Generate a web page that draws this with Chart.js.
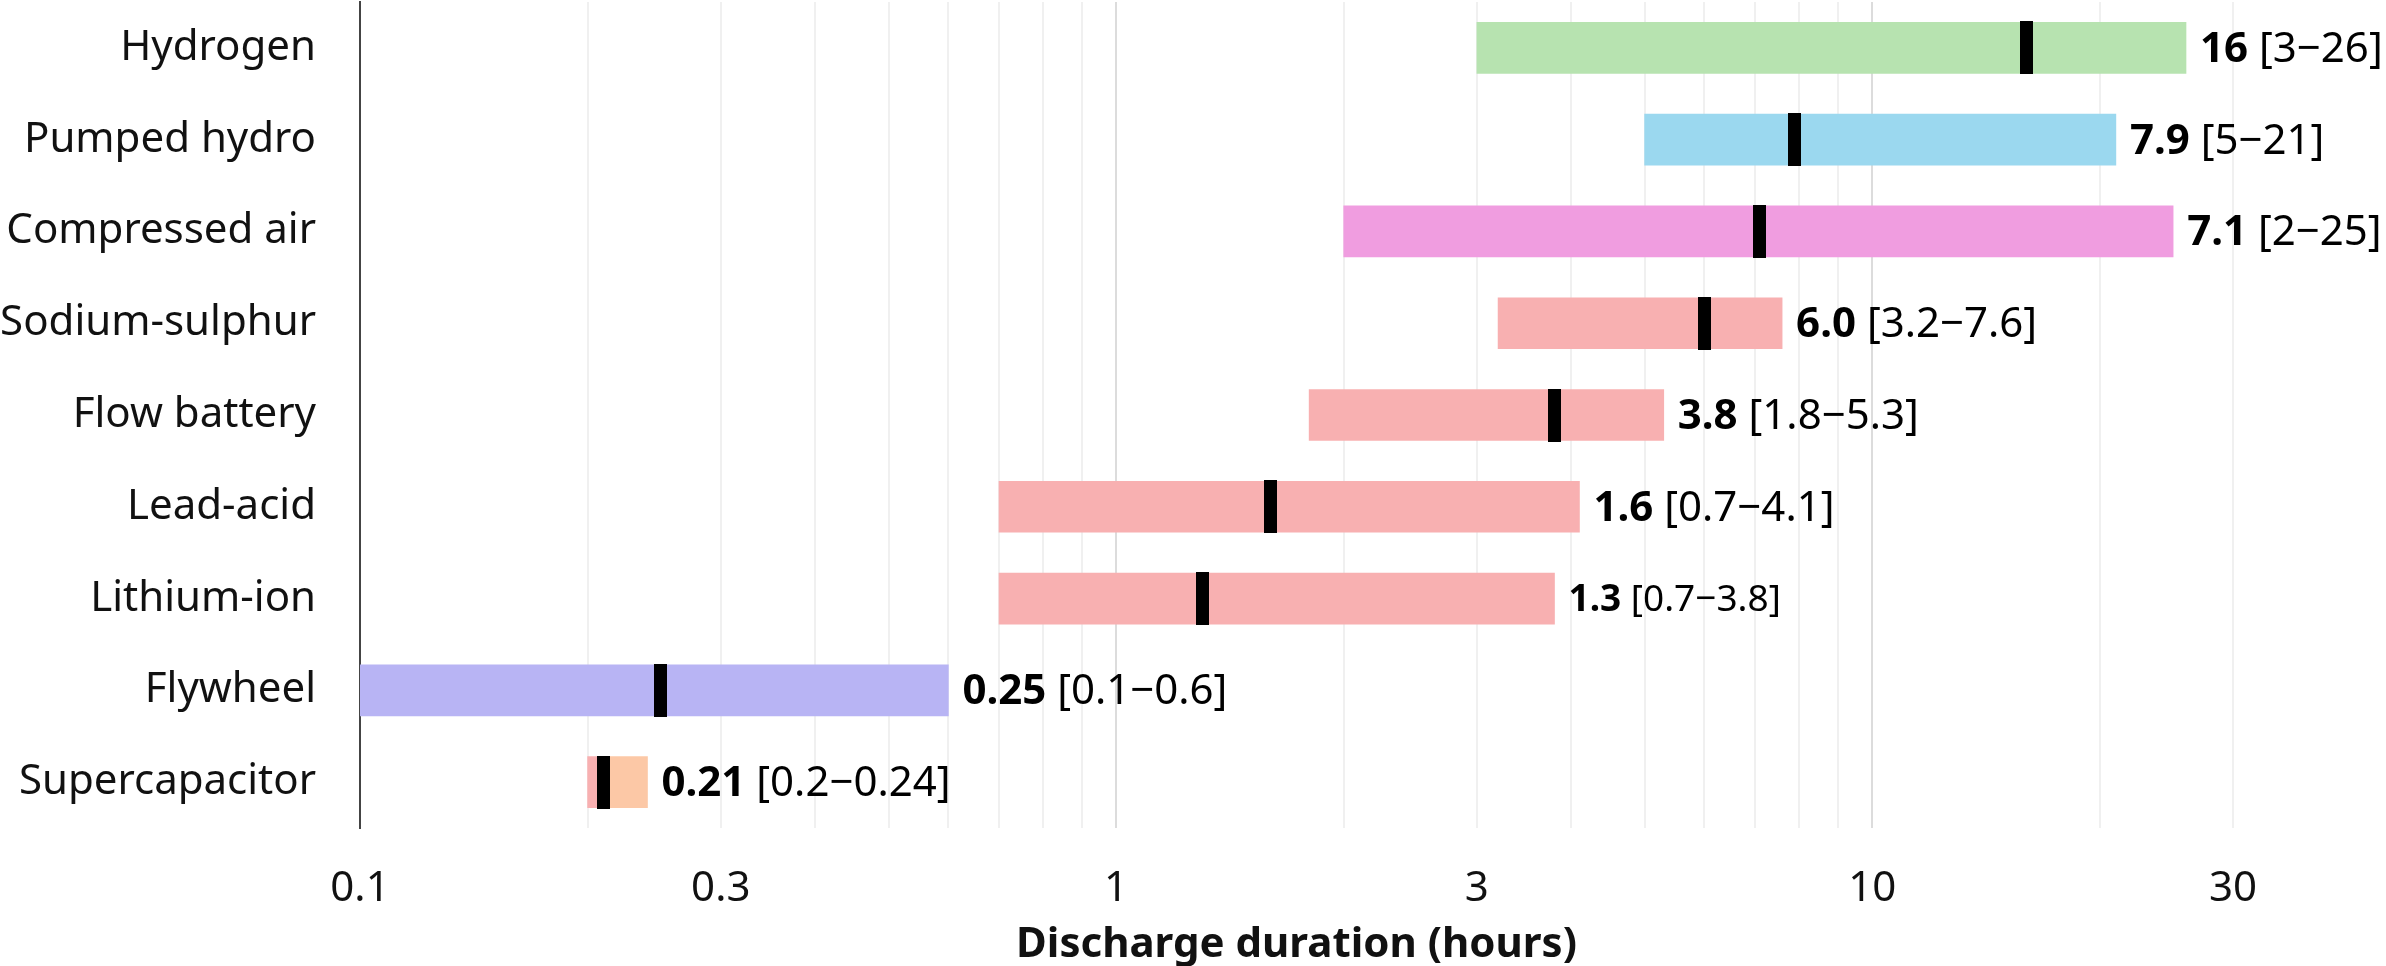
<!DOCTYPE html>
<html>
<head>
<meta charset="utf-8">
<script src="https://cdn.jsdelivr.net/npm/chart.js@4/dist/chart.umd.min.js"></script>
<style>
  html, body { margin: 0; padding: 0; background: #ffffff; }
  #wrap { width: 2386px; height: 966px; position: relative; }
</style>
</head>
<body>
<div id="wrap"><canvas id="chart" width="2386" height="966"></canvas></div>
<script>
// Storage technologies, typical discharge duration in hours
const technologies = ['Hydrogen', 'Pumped hydro', 'Compressed air', 'Sodium-sulphur',
  'Flow battery', 'Lead-acid', 'Lithium-ion', 'Flywheel', 'Supercapacitor'];
const medianHours = [16, 7.9, 7.1, 6.0, 3.8, 1.6, 1.3, 0.25, 0.21];
const lowHours    = [3, 5, 2, 3.2, 1.8, 0.7, 0.7, 0.1, 0.2];
const highHours   = [26, 21, 25, 7.6, 5.3, 4.1, 3.8, 0.6, 0.24];

// Log axis: gridlines and the values that carry a label
const gridValues = [0.1, 0.2, 0.3, 0.4, 0.5, 0.6, 0.7, 0.8, 0.9,
  1, 2, 3, 4, 5, 6, 7, 8, 9, 10, 20, 30];
const tickLabelValues = [0.1, 0.3, 1, 3, 10, 30];

// Fill colours: left half (low to median) and right half (median to high)
const lowColors  = ['#b7e3b0', '#9bd8ef', '#f09de0', '#f8b0b1', '#f8b0b1', '#f8b0b1', '#f8b0b1', '#b8b4f4', '#f8b0b1'];
const highColors = ['#b7e3b0', '#9bd8ef', '#f09de0', '#f8b0b1', '#f8b0b1', '#f8b0b1', '#f8b0b1', '#b8b4f4', '#fcc8a6'];
const labelFontPx = [42, 42, 42, 42, 42, 42, 37, 42, 42];

const FONT = '"Noto Sans", "Open Sans", sans-serif';

function formatMedian(v) {
  if (v >= 10) return v.toFixed(0);
  if (v >= 1) return v.toFixed(1);
  return v.toFixed(2);
}

// Median marker plus "median [low−high]" text next to each bar
const annotate = {
  id: 'annotate',
  afterDatasetsDraw(chart) {
    const ctx = chart.ctx;
    const xs = chart.scales.x;
    const meta = chart.getDatasetMeta(0);
    ctx.save();
    technologies.forEach((name, i) => {
      const bar = meta.data[i];
      const y = bar.y;
      const h = bar.height;
      const xm = xs.getPixelForValue(medianHours[i]);
      ctx.fillStyle = '#000000';
      ctx.fillRect(Math.round(xm - 6.5), Math.round(y - h / 2 - 1), 13, Math.round(h + 2));

      const px = labelFontPx[i];
      let tx = xs.getPixelForValue(highHours[i]) + 14;
      const ty = y + 2;
      ctx.textBaseline = 'middle';
      ctx.textAlign = 'left';
      ctx.fillStyle = '#000000';
      ctx.font = 'bold ' + px + 'px ' + FONT;
      const m = formatMedian(medianHours[i]);
      ctx.fillText(m, tx, ty);
      tx += ctx.measureText(m + ' ').width;
      ctx.font = px + 'px ' + FONT;
      ctx.fillText('[' + String(lowHours[i]) + '\u2212' + String(highHours[i]) + ']', tx, ty);
    });
    ctx.restore();
  }
};

new Chart(document.getElementById('chart'), {
  type: 'bar',
  data: {
    labels: technologies,
    datasets: [
      {
        label: 'low to median',
        data: technologies.map((_, i) => [lowHours[i], medianHours[i]]),
        backgroundColor: lowColors,
        borderWidth: 0,
        barThickness: 51,
        grouped: false
      },
      {
        label: 'median to high',
        data: technologies.map((_, i) => [medianHours[i], highHours[i]]),
        backgroundColor: highColors,
        borderWidth: 0,
        barThickness: 51,
        grouped: false
      }
    ]
  },
  options: {
    indexAxis: 'y',
    responsive: false,
    animation: false,
    devicePixelRatio: 1,
    layout: { padding: { top: 2, right: 153, left: 0, bottom: 0 } },
    plugins: {
      legend: { display: false },
      tooltip: { enabled: false },
      title: { display: false }
    },
    scales: {
      x: {
        type: 'logarithmic',
        min: 0.1,
        max: 30,
        afterBuildTicks(scale) {
          scale.ticks = gridValues.map(v => ({ value: v }));
        },
        afterFit(scale) {
          scale.height = 138;
          scale.paddingLeft = 0;
          scale.paddingRight = 0;
        },
        border: { display: false },
        grid: {
          drawTicks: false,
          lineWidth: 2,
          color(ctx) {
            const v = ctx.tick ? ctx.tick.value : null;
            if (v === 0.1) return 'rgba(0,0,0,0)';
            if (v === 1 || v === 10) return '#dcdcdc';
            return '#f0f0f0';
          }
        },
        ticks: {
          autoSkip: false,
          maxRotation: 0,
          padding: 40,
          color: '#111111',
          font: { family: FONT, size: 42, lineHeight: 1 },
          callback(value) {
            return tickLabelValues.includes(value) ? String(value) : '';
          }
        },
        title: {
          display: true,
          text: 'Discharge duration (hours)',
          color: '#111111',
          padding: { top: 0, bottom: 0 },
          font: { family: FONT, size: 42, weight: 'bold', lineHeight: 1 }
        }
      },
      y: {
        type: 'category',
        afterFit(scale) {
          scale.width = 360;
          scale.paddingTop = 0;
          scale.paddingBottom = 0;
        },
        grid: { display: false, drawTicks: false },
        border: { display: true, color: '#444444', width: 2 },
        ticks: {
          padding: 44,
          color: '#111111',
          font: { family: FONT, size: 42 }
        }
      }
    }
  },
  plugins: [annotate]
});
</script>
</body>
</html>
